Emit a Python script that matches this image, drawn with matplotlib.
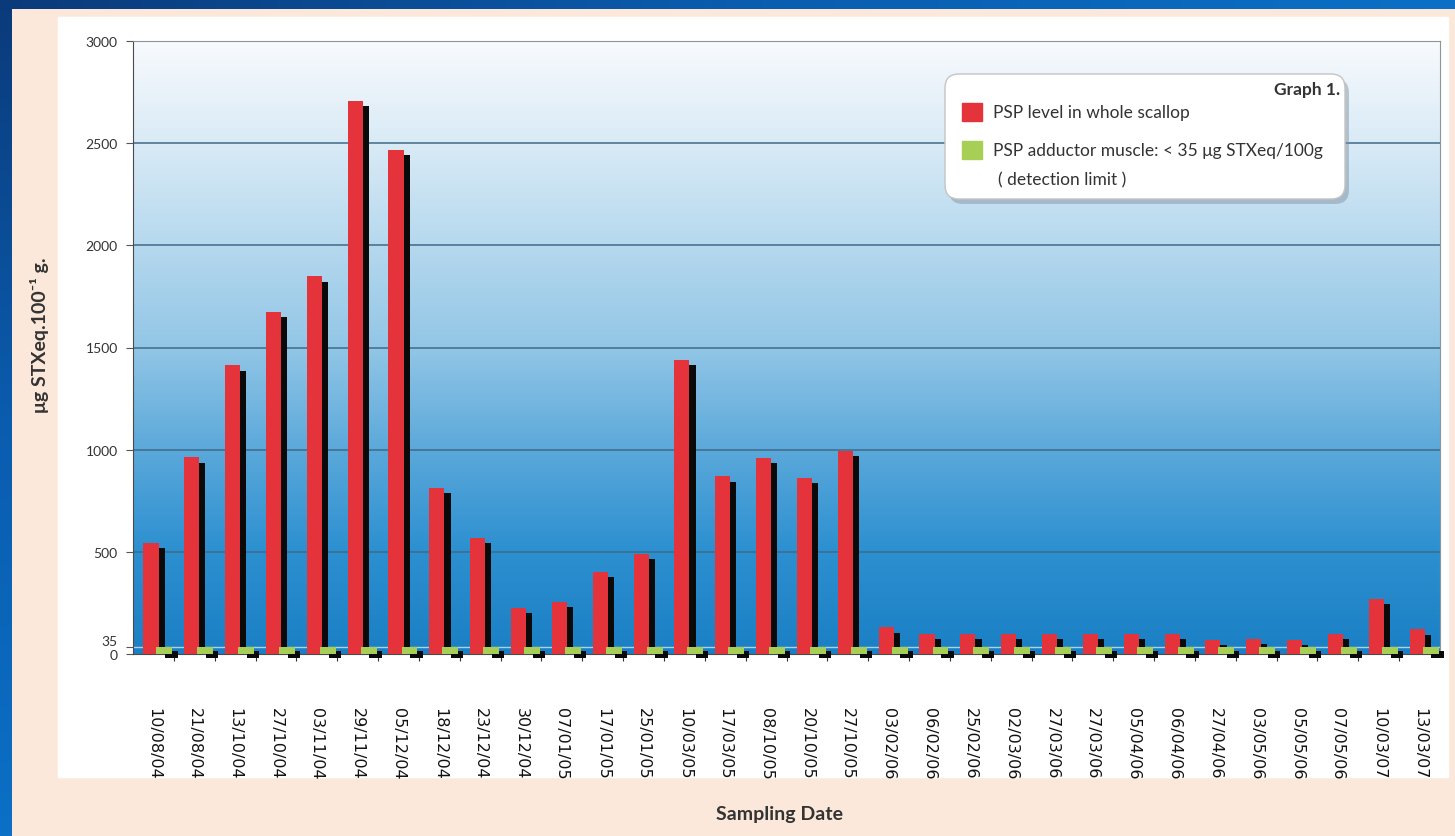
import numpy as np
import matplotlib
matplotlib.use("Agg")
import matplotlib.pyplot as plt
from matplotlib.colors import LinearSegmentedColormap
from matplotlib.patches import Rectangle, FancyBboxPatch

plt.rcParams['font.family'] = ['Lato', 'DejaVu Sans']

# Sampling dates and PSP toxin levels (ug STXeq / 100 g)
dates = ["10/08/04", "21/08/04", "13/10/04", "27/10/04", "03/11/04", "29/11/04",
         "05/12/04", "18/12/04", "23/12/04", "30/12/04", "07/01/05", "17/01/05",
         "25/01/05", "10/03/05", "17/03/05", "08/10/05", "20/10/05", "27/10/05",
         "03/02/06", "06/02/06", "25/02/06", "02/03/06", "27/03/06", "27/03/06",
         "05/04/06", "06/04/06", "27/04/06", "03/05/06", "05/05/06", "07/05/06",
         "10/03/07", "13/03/07"]
whole_scallop = [545, 962, 1412, 1672, 1848, 2705, 2467, 812, 570, 225, 255, 400,
                 490, 1438, 869, 959, 861, 995, 130, 100, 100, 100, 100, 100,
                 100, 100, 70, 75, 70, 100, 270, 120]
adductor = [35] * len(dates)  # below detection limit
y_ticks = [0, 35, 500, 1000, 1500, 2000, 2500, 3000]

RED = '#e5333b'
GREEN = '#a8cf55'
TXT = '#333333'
DROP = 25  # how far the dark side face sits below each bar top

W, H = 1455, 837
fig = plt.figure(figsize=(W / 100, H / 100), dpi=100)

# page background in pixel units
bg = fig.add_axes([0, 0, 1, 1], zorder=0)
bg.add_patch(Rectangle((0, 0), W, H, color='#fce8da', zorder=0))
bg.add_patch(Rectangle((58, 18), 1390, 760, color='white', zorder=1))
frame = LinearSegmentedColormap.from_list('frame', ['#0b3a7a', '#0a5cae', '#0b70c6'])
bg.imshow(np.linspace(0, 1, 256).reshape(-1, 1), cmap=frame, extent=(0, 12, H, 0),
          aspect='auto', zorder=2)
bg.imshow(np.linspace(0, 1, 256).reshape(1, -1), cmap=frame, extent=(0, W, 10, 0),
          aspect='auto', zorder=2)
bg.set_xlim(0, W)
bg.set_ylim(H, 0)
bg.axis('off')

# plot area
ax = fig.add_axes([133 / W, 1 - 655 / H, 1307 / W, 613 / H], zorder=1)
x = np.arange(len(dates))
sky = LinearSegmentedColormap.from_list(
    'sky', [(0, '#f8fafd'), (0.17, '#d8eaf6'), (0.5, '#92c6e6'),
            (0.67, '#5aa8da'), (0.83, '#2d90d0'), (1.0, '#1a7fc4')])
ax.imshow(np.linspace(0, 1, 256).reshape(-1, 1), cmap=sky,
          extent=(-0.5, len(dates) - 0.5, 0, 3000), aspect='auto', zorder=0)

for yv in y_ticks[2:-1]:
    ax.axhline(yv, color='#3f6a88', lw=1.1, zorder=1)
ax.axhline(35, color='#a9d3e6', lw=1, zorder=1)

# 3-D look: a dark copy of each bar pushed right and down
ax.bar(x + 0.09, [v - DROP for v in whole_scallop], width=0.37, color='#0a0a0a', zorder=2)
red_bars = ax.bar(x - 0.06, whole_scallop, width=0.37, color=RED, zorder=3)
ax.bar(x + 0.44, adductor, width=0.3, bottom=-22, color='#0a0a0a', zorder=4, clip_on=False)
green_bars = ax.bar(x + 0.27, adductor, width=0.39, color=GREEN, zorder=5)

ax.set_xlim(-0.5, len(dates) - 0.5)
ax.set_ylim(0, 3000)
ax.set_yticks(y_ticks, [str(v) for v in y_ticks])
for lab in ax.get_yticklabels():
    if lab.get_text() == '35':
        lab.set_verticalalignment('bottom')
ax.tick_params(axis='y', length=5, width=0.8, color='#555555', labelsize=10,
               labelcolor=TXT, pad=6)

ax.set_xticks(x)
ax.set_xticklabels(dates, rotation=270, fontsize=11.5, color='#111111',
                   family=['Liberation Sans Narrow', 'DejaVu Sans'])
ax.tick_params(axis='x', which='major', length=0, pad=38)
ax.set_xticks(x[1:] - 0.5, minor=True)
ax.tick_params(axis='x', which='minor', length=5, width=0.8, color='#333333')

for side in ('left', 'bottom'):
    ax.spines[side].set_color('#4a4a4a')
for side in ('top', 'right'):
    ax.spines[side].set_color('#8a959c')

fig.text(40 / W, 1 - 335 / H, 'μg STXeq.100⁻¹ g.', rotation=90, ha='center', va='center',
         fontsize=14, weight='bold', color=TXT)
fig.text(780 / W, 1 - 815 / H, 'Sampling Date', ha='center', va='center',
         fontsize=14, weight='bold', color=TXT)

# legend box drawn on an overlay in pixel units
ov = fig.add_axes([0, 0, 1, 1], zorder=3)
ov.set_xlim(0, W)
ov.set_ylim(H, 0)
ov.axis('off')
ov.patch.set_alpha(0)
ov.add_patch(FancyBboxPatch((949, 80), 400, 125, boxstyle='round,pad=0,rounding_size=14',
                            fc='#7d8c99', ec='none', alpha=0.45))
ov.add_patch(FancyBboxPatch((945, 75), 400, 125, boxstyle='round,pad=0,rounding_size=14',
                            fc='white', ec='#c4c4c4', lw=1))
ov.text(1340, 90, 'Graph 1.', ha='right', va='center', fontsize=12.5, weight='bold', color=TXT)
ov.add_patch(Rectangle((962, 104), 20, 18, color=RED))
ov.text(993, 113, 'PSP level in whole scallop', va='center', fontsize=12.5, color=TXT)
ov.add_patch(Rectangle((962, 142), 20, 18, color=GREEN))
ov.text(993, 151, 'PSP adductor muscle: < 35 μg STXeq/100g', va='center', fontsize=12.5, color=TXT)
ov.text(998, 180, '( detection limit )', va='center', fontsize=12.5, color=TXT)

fig.savefig('out.png', dpi=100)
